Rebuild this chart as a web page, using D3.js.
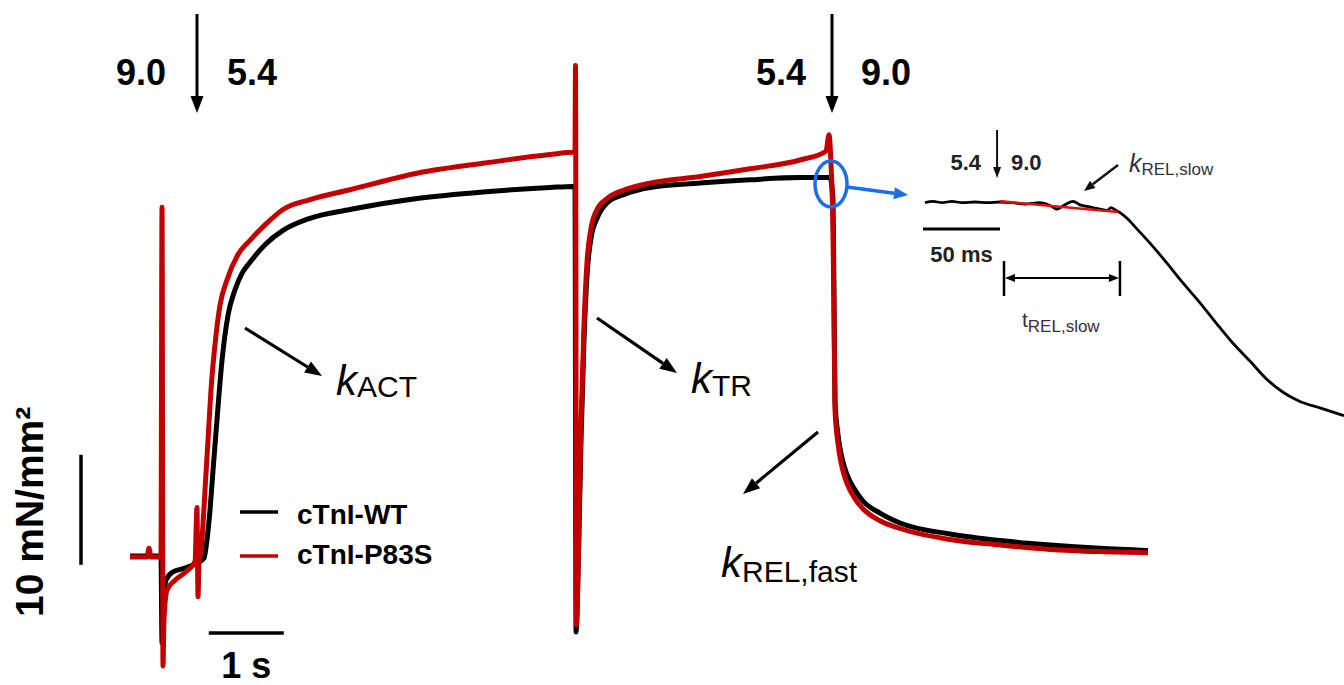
<!DOCTYPE html>
<html><head><meta charset="utf-8">
<script src="https://cdn.jsdelivr.net/npm/d3@7"></script>
<style>
body{margin:0;background:#fff;}
svg{display:block;}
text{font-family:"Liberation Sans",Arial,Helvetica,sans-serif;}
</style>
</head><body>
<svg id="chart" width="1344" height="685"></svg>
<script>
// ---- Data (time in s, force in mN/mm^2) ----
const seriesNames = ["cTnI-WT", "cTnI-P83S"];
const wtTime = [0,0.373,0.413,0.427,0.44,0.48,0.56,0.733,0.907,0.987,1.027,1.067,1.107,1.16,1.227,1.307,1.4,1.493,1.6,1.8,2.04,2.4,2.933,3.827,4.707,5.6,5.907,5.933,5.947,5.96,5.987,6.013,6.053,6.093,6.147,6.227,6.36,6.6,6.933,7.6,8.267,8.933,9.333,9.373,9.387,9.4,9.44,9.493,9.56,9.667,9.773,10.0,10.267,10.933,11.6,12.267,12.933,13.573];
const wtForce = [0,0,0,-7.9,-4.9,-2.2,-1.5,-1.1,-0.6,-0.2,1.5,4.2,7.8,12.4,17.8,21.9,24.2,25.7,26.7,28.3,29.6,30.7,31.5,32.5,33.1,33.5,33.6,33.6,-6.9,-4.9,2.4,10.5,19.6,25.5,28.9,30.7,32.1,32.9,33.5,33.9,34.2,34.4,34.4,32.4,23.3,14.1,11.0,8.9,7.4,6.0,5.0,3.9,3.0,2.0,1.4,1.0,0.7,0.5];
const p83sTime = [0,0.227,0.253,0.28,0.413,0.427,0.44,0.453,0.493,0.6,0.733,0.867,0.893,0.907,0.92,0.947,0.973,1.0,1.04,1.08,1.133,1.2,1.293,1.44,1.6,1.8,2.04,2.4,2.933,3.827,4.707,5.6,5.907,5.933,5.94,5.953,5.967,5.987,6.013,6.053,6.093,6.147,6.227,6.36,6.6,6.933,7.6,8.267,8.933,9.28,9.32,9.347,9.373,9.387,9.4,9.44,9.493,9.56,9.667,9.773,10.0,10.267,10.933,11.6,12.267,12.933,13.573];
const p83sForce = [-0.1,-0.1,0.7,-0.1,-0.1,31.7,-10,-5.8,-3.1,-2.2,-1.5,-0.5,4.4,-3.7,-0.5,0.5,2.8,6.0,10.5,15.1,19.2,22.8,25.1,27.4,28.7,30.1,31.5,32.4,33.3,34.8,35.7,36.5,36.7,36.7,44.6,-6.3,-4.0,3.3,11.9,21.0,26.7,29.8,31.5,32.5,33.3,33.9,34.5,35.2,36.0,36.8,38.3,35.5,29.6,21.5,13.3,10.2,8.1,6.6,5.2,4.3,3.2,2.5,1.5,1.0,0.6,0.4,0.3];
// Inset (time in ms, force in % of pre-release)
const insetTime = [0,5.2,11.0,17.5,24.0,32.5,40.9,48.7,56.5,64.9,74.7,81.2,85.7,90.9,96.1,100.6,107.1,113.6,118.2,120.8,123.4,126.6,131.2,136.4,146.1,157.1,167.5,178.6,189.6,200.0,211.0,222.1,232.5,243.5,256.5,272.1];
const insetForce = [99.9,100.1,99.9,100.1,99.9,100,99.9,100,99.9,99.7,99.9,99.5,99.0,99.6,100.1,99.6,99.3,99.0,98.8,99.2,98.9,98.5,97.7,96.5,94.2,91.4,88.6,85.8,82.8,80.1,77.6,75.0,73.2,71.9,71.0,69.9];
const insetFitTime = [48.7, 125.3];
const insetFitForce = [100.1, 98.6];
const pcaBefore = ["9.0", "5.4"];
const pcaAfter = ["5.4", "9.0"];

const colors = {wt: "#000000", p83s: "#c30000"};

const svg = d3.select("#chart");

// ---- Scales ----
const x = d3.scaleLinear().domain([0, 13.573]).range([130, 1148]);
const y = d3.scaleLinear().domain([0, 10]).range([556, 446]);
const xi = d3.scaleLinear().domain([0, 272.1]).range([925, 1344]);
const yi = d3.scaleLinear().domain([100, 70]).range([202, 415]);

const wt = wtTime.map((t, i) => ({t, f: wtForce[i]}));
const p83s = p83sTime.map((t, i) => ({t, f: p83sForce[i]}));
const inset = insetTime.map((t, i) => ({t, f: insetForce[i]}));
const insetFit = insetFitTime.map((t, i) => ({t, f: insetFitForce[i]}));

const line = d3.line().x(d => x(d.t)).y(d => y(d.f)).curve(d3.curveMonotoneX);
const lineI = d3.line().x(d => xi(d.t)).y(d => yi(d.f)).curve(d3.curveMonotoneX);

// ---- helpers ----
function arrow(g, x1, y1, x2, y2, color, w, hl, hw) {
  const a = Math.atan2(y2 - y1, x2 - x1);
  const bx = x2 - hl * Math.cos(a), by = y2 - hl * Math.sin(a);
  g.append("line").attr("x1", x1).attr("y1", y1).attr("x2", bx).attr("y2", by)
    .attr("stroke", color).attr("stroke-width", w);
  const px = -Math.sin(a) * hw / 2, py = Math.cos(a) * hw / 2;
  g.append("path").attr("d", `M${x2},${y2}L${bx + px},${by + py}L${bx - px},${by - py}Z`).attr("fill", color);
}
function kLabel(g, xk, yk, sub, kSize, subSize, dy, color) {
  const t = g.append("text").attr("x", xk).attr("y", yk).attr("fill", color || "#000");
  t.append("tspan").attr("font-style", "italic").attr("font-size", kSize).text("k");
  t.append("tspan").attr("font-size", subSize).attr("dy", dy).text(sub);
}

// ---- traces ----
svg.append("path").datum(wt).attr("d", line).attr("fill", "none")
  .attr("stroke", colors.wt).attr("stroke-width", 5).attr("stroke-linejoin", "round");
svg.append("path").datum(p83s).attr("d", line).attr("fill", "none")
  .attr("stroke", colors.p83s).attr("stroke-width", 5).attr("stroke-linejoin", "round");

// ---- scale bars ----
svg.append("line").attr("x1", x(1.05)).attr("x2", x(2.05)).attr("y1", 633).attr("y2", 633)
  .attr("stroke", "#000").attr("stroke-width", 3.5);
svg.append("text").attr("x", x(1.55)).attr("y", 678).attr("text-anchor", "middle")
  .attr("font-size", 36).attr("font-weight", "bold").text("1 s");
svg.append("line").attr("x1", 81).attr("x2", 81).attr("y1", y(-0.8)).attr("y2", y(9.2))
  .attr("stroke", "#000").attr("stroke-width", 3.5);
svg.append("text").attr("transform", "translate(43,617) rotate(-90)")
  .attr("font-size", 39).attr("font-weight", "bold").text("10 mN/mm²");

// ---- legend ----
const leg = svg.append("g");
[["cTnI-WT", colors.wt, 512, 514], ["cTnI-P83S", colors.p83s, 556, 554]].forEach(([n, c, ly, ty]) => {
  leg.append("line").attr("x1", 240).attr("x2", 278).attr("y1", ly).attr("y2", ly)
    .attr("stroke", c).attr("stroke-width", 3.5);
  leg.append("text").attr("x", 297).attr("y", ty + 10).attr("font-size", 28)
    .attr("font-weight", "bold").text(n);
});

// ---- pCa arrows ----
const topG = svg.append("g");
topG.append("text").attr("x", 166).attr("y", 85).attr("text-anchor", "end").attr("font-size", 36).attr("font-weight", "bold").text(pcaBefore[0]);
topG.append("text").attr("x", 227).attr("y", 85).attr("font-size", 36).attr("font-weight", "bold").text(pcaBefore[1]);
arrow(topG, 197, 14, 197, 113, "#000", 3, 17, 13);
topG.append("text").attr("x", 806).attr("y", 85).attr("text-anchor", "end").attr("font-size", 36).attr("font-weight", "bold").text(pcaAfter[0]);
topG.append("text").attr("x", 861).attr("y", 85).attr("font-size", 36).attr("font-weight", "bold").text(pcaAfter[1]);
arrow(topG, 832, 14, 832, 113, "#000", 3, 17, 13);

// ---- k annotations ----
const ann = svg.append("g");
arrow(ann, 245, 328, 322, 376, "#000", 3.2, 17, 13);
kLabel(ann, 336, 395, "ACT", 42, 30, 2);
arrow(ann, 597, 318, 677, 373, "#000", 3.2, 17, 13);
kLabel(ann, 691, 393, "TR", 42, 30, 3);
arrow(ann, 818, 432, 743, 494, "#000", 3.2, 17, 13);
kLabel(ann, 721, 577, "REL,fast", 42, 30, 5);

// ---- blue ellipse & arrow ----
svg.append("ellipse").attr("cx", 831).attr("cy", 184).attr("rx", 16).attr("ry", 23)
  .attr("fill", "none").attr("stroke", "#1a6ee6").attr("stroke-width", 3.5);
arrow(svg, 847, 187, 908, 195, "#1a6ee6", 3.5, 14, 12);

// ---- inset ----
const ins = svg.append("g");
ins.append("path").datum(inset).attr("d", lineI).attr("fill", "none")
  .attr("stroke", "#000").attr("stroke-width", 2.8).attr("stroke-linejoin", "round");
ins.append("path").datum(insetFit).attr("d", lineI).attr("fill", "none")
  .attr("stroke", "#e01010").attr("stroke-width", 2.6);
ins.append("text").attr("x", 981).attr("y", 170).attr("text-anchor", "end").attr("font-size", 22).attr("font-weight", "bold").attr("fill", "#222").text(pcaAfter[0]);
ins.append("text").attr("x", 1011).attr("y", 170).attr("font-size", 22).attr("font-weight", "bold").attr("fill", "#222").text(pcaAfter[1]);
arrow(ins, xi(46.8), 130, xi(46.8), 178, "#111", 2, 11, 8);
// 50 ms bar
ins.append("line").attr("x1", xi(-1.3)).attr("x2", xi(48.7)).attr("y1", 229).attr("y2", 229)
  .attr("stroke", "#000").attr("stroke-width", 3);
ins.append("text").attr("x", xi(23.7)).attr("y", 262).attr("text-anchor", "middle")
  .attr("font-size", 22).attr("font-weight", "bold").attr("fill", "#222").text("50 ms");
// t_REL,slow bracket
const b0 = xi(51.3), b1 = xi(126.6);
ins.append("line").attr("x1", b0).attr("x2", b0).attr("y1", 261).attr("y2", 296).attr("stroke", "#000").attr("stroke-width", 2.5);
ins.append("line").attr("x1", b1).attr("x2", b1).attr("y1", 261).attr("y2", 296).attr("stroke", "#000").attr("stroke-width", 2.5);
arrow(ins, (b0 + b1) / 2, 278, b0 + 1, 278, "#000", 2.2, 10, 8);
arrow(ins, (b0 + b1) / 2, 278, b1 - 1, 278, "#000", 2.2, 10, 8);
const tt = ins.append("text").attr("x", 1022).attr("y", 327).attr("fill", "#333");
tt.append("tspan").attr("font-size", 21).text("t");
tt.append("tspan").attr("font-size", 17).attr("dy", 5).text("REL,slow");
// k_REL,slow
arrow(ins, 1118, 165, 1084, 191, "#111", 2.4, 11, 9);
kLabel(ins, 1129, 172, "REL,slow", 25, 17, 3, "#333");
</script>
</body></html>
